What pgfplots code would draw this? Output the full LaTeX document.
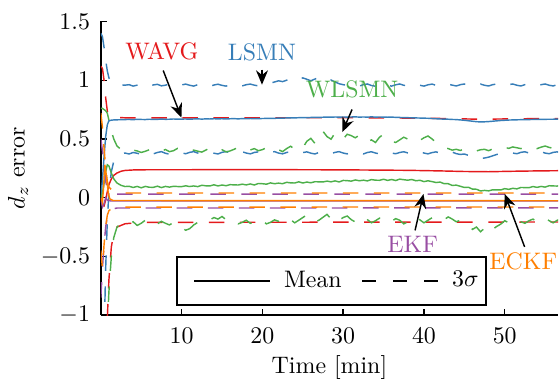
\documentclass[border=0pt]{standalone}
\usepackage{pgfplots}
\pgfplotsset{compat=1.18}
\usepackage{pgfplotstable}
\usetikzlibrary{arrows.meta}
\definecolor{cR}{RGB}{228,26,28}
\definecolor{cB}{RGB}{55,126,184}
\definecolor{cG}{RGB}{77,175,74}
\definecolor{cP}{RGB}{152,78,163}
\definecolor{cO}{RGB}{255,127,0}

\pgfplotstableread{
t bm bu bl gm gu gl
0.0 0.000 1.400 -3.00 0.000 0.760 -3.00
0.2 0.150 1.370 -2.00 0.040 0.760 -2.50
0.4 0.350 1.280 -1.20 0.120 0.750 -2.00
0.6 0.520 1.170 -0.60 0.220 0.740 -1.50
0.8 0.620 1.080 -0.20 0.280 0.720 -1.10
1.0 0.655 1.020 0.05 0.270 0.660 -0.80
1.3 0.660 0.985 0.22 0.210 0.570 -0.50
1.6 0.662 0.970 0.31 0.160 0.500 -0.34
2.0 0.663 0.962 0.36 0.125 0.440 -0.25
2.5 0.664 0.960 0.375 0.105 0.410 -0.22
3.0 0.665 0.958 0.380 0.095 0.400 -0.21
3.5 0.666 0.962 0.372 0.097 0.392 -0.223
4.0 0.664 0.950 0.385 0.087 0.405 -0.205
4.5 0.667 0.958 0.378 0.096 0.398 -0.236
5.0 0.666 0.968 0.370 0.084 0.385 -0.218
5.5 0.665 0.955 0.388 0.096 0.395 -0.192
6.0 0.668 0.947 0.380 0.089 0.408 -0.214
6.5 0.666 0.960 0.373 0.088 0.418 -0.241
7.0 0.667 0.965 0.385 0.098 0.404 -0.223
7.5 0.669 0.952 0.392 0.086 0.396 -0.201
8.0 0.667 0.958 0.378 0.096 0.410 -0.218
8.5 0.668 0.966 0.370 0.090 0.392 -0.232
9.0 0.670 0.954 0.384 0.097 0.400 -0.210
9.5 0.668 0.949 0.390 0.095 0.420 -0.221
10.0 0.669 0.960 0.382 0.094 0.425 -0.254
10.5 0.670 0.967 0.374 0.101 0.412 -0.277
11.0 0.668 0.957 0.386 0.095 0.398 -0.264
11.5 0.670 0.950 0.392 0.100 0.405 -0.232
12.0 0.671 0.962 0.380 0.094 0.396 -0.210
12.5 0.669 0.968 0.373 0.106 0.388 -0.218
13.0 0.671 0.955 0.385 0.101 0.405 -0.203
13.5 0.670 0.948 0.391 0.100 0.425 -0.189
14.0 0.672 0.959 0.379 0.110 0.410 -0.169
14.5 0.671 0.966 0.372 0.100 0.398 -0.182
15.0 0.672 0.956 0.386 0.108 0.408 -0.160
15.5 0.670 0.950 0.393 0.102 0.390 -0.187
16.0 0.672 0.961 0.381 0.111 0.398 -0.214
16.5 0.673 0.969 0.374 0.109 0.412 -0.201
17.0 0.671 0.957 0.387 0.108 0.428 -0.223
17.5 0.673 0.951 0.392 0.115 0.415 -0.210
18.0 0.672 0.962 0.380 0.109 0.398 -0.192
18.5 0.674 0.967 0.373 0.117 0.406 -0.218
19.0 0.672 0.958 0.385 0.108 0.418 -0.205
19.5 0.673 0.952 0.390 0.121 0.400 -0.182
20.0 0.674 0.960 0.382 0.119 0.409 -0.196
20.5 0.675 0.968 0.375 0.115 0.425 -0.223
21.0 0.676 0.975 0.386 0.126 0.418 -0.210
21.5 0.675 0.985 0.392 0.119 0.400 -0.189
22.0 0.678 0.995 0.380 0.124 0.409 -0.201
22.5 0.677 0.988 0.373 0.119 0.392 -0.178
23.0 0.679 1.000 0.385 0.131 0.418 -0.164
23.5 0.680 1.015 0.391 0.126 0.438 -0.187
24.0 0.679 0.998 0.380 0.125 0.412 -0.214
24.5 0.681 1.005 0.372 0.135 0.400 -0.192
25.0 0.682 1.020 0.384 0.125 0.425 -0.169
25.5 0.681 1.008 0.390 0.133 0.480 -0.146
26.0 0.683 0.995 0.379 0.127 0.505 -0.178
26.5 0.684 1.010 0.372 0.136 0.462 -0.205
27.0 0.683 1.022 0.385 0.135 0.495 -0.192
27.5 0.685 1.005 0.392 0.134 0.565 -0.167
28.0 0.686 0.990 0.381 0.141 0.520 -0.142
28.5 0.685 1.002 0.374 0.135 0.498 -0.182
29.0 0.687 0.985 0.386 0.143 0.552 -0.214
29.5 0.686 0.970 0.392 0.134 0.530 -0.192
30.0 0.687 0.962 0.380 0.147 0.500 -0.169
30.5 0.686 0.956 0.373 0.145 0.540 -0.156
31.0 0.687 0.965 0.385 0.141 0.528 -0.187
31.5 0.688 0.958 0.390 0.151 0.510 -0.207
32.0 0.686 0.950 0.379 0.144 0.532 -0.182
32.5 0.687 0.962 0.372 0.149 0.490 -0.160
33.0 0.686 0.968 0.385 0.143 0.478 -0.187
33.5 0.688 0.955 0.391 0.154 0.492 -0.214
34.0 0.686 0.949 0.380 0.149 0.470 -0.196
34.5 0.687 0.960 0.373 0.148 0.515 -0.174
35.0 0.686 0.967 0.386 0.157 0.540 -0.192
35.5 0.685 0.956 0.392 0.147 0.500 -0.218
36.0 0.686 0.950 0.380 0.155 0.480 -0.201
36.5 0.684 0.961 0.374 0.146 0.470 -0.178
37.0 0.683 0.968 0.385 0.158 0.492 -0.192
37.5 0.682 0.957 0.391 0.153 0.515 -0.223
38.0 0.681 0.951 0.381 0.149 0.498 -0.205
38.5 0.680 0.962 0.374 0.155 0.520 -0.182
39.0 0.679 0.968 0.386 0.144 0.505 -0.160
39.5 0.678 0.957 0.392 0.148 0.488 -0.189
40.0 0.677 0.950 0.380 0.137 0.510 -0.214
40.5 0.676 0.961 0.373 0.144 0.525 -0.192
41.0 0.674 0.967 0.384 0.137 0.500 -0.171
41.5 0.672 0.956 0.390 0.129 0.470 -0.187
42.0 0.670 0.950 0.379 0.133 0.440 -0.205
42.5 0.669 0.960 0.372 0.119 0.425 -0.187
43.0 0.668 0.967 0.383 0.119 0.418 -0.164
43.5 0.666 0.958 0.388 0.104 0.405 -0.182
44.0 0.665 0.951 0.375 0.107 0.412 -0.205
44.5 0.662 0.962 0.368 0.097 0.402 -0.192
45.0 0.659 0.968 0.372 0.087 0.415 -0.218
45.5 0.655 0.957 0.360 0.089 0.405 -0.235
46.0 0.651 0.950 0.350 0.073 0.410 -0.270
46.5 0.647 0.961 0.340 0.072 0.398 -0.250
47.0 0.645 0.967 0.333 0.057 0.408 -0.290
47.5 0.646 0.957 0.338 0.062 0.412 -0.260
48.0 0.648 0.951 0.345 0.058 0.400 -0.300
48.5 0.651 0.962 0.356 0.067 0.415 -0.270
49.0 0.654 0.968 0.368 0.066 0.425 -0.245
49.5 0.657 0.957 0.375 0.066 0.418 -0.225
50.0 0.659 0.951 0.382 0.077 0.428 -0.196
50.5 0.661 0.962 0.388 0.071 0.420 -0.214
51.0 0.662 0.968 0.380 0.080 0.432 -0.192
51.5 0.663 0.957 0.374 0.075 0.425 -0.178
52.0 0.664 0.951 0.386 0.087 0.418 -0.205
52.5 0.665 0.962 0.391 0.086 0.430 -0.218
53.0 0.665 0.968 0.380 0.085 0.438 -0.196
53.5 0.666 0.957 0.373 0.095 0.425 -0.182
54.0 0.666 0.951 0.385 0.088 0.418 -0.205
54.5 0.667 0.962 0.391 0.096 0.430 -0.192
55.0 0.667 0.968 0.380 0.090 0.440 -0.174
55.5 0.668 0.957 0.374 0.102 0.428 -0.196
56.0 0.668 0.951 0.386 0.100 0.420 -0.214
56.5 0.669 0.962 0.390 0.099 0.432 -0.192
57.0 0.669 0.968 0.380 0.108 0.438 -0.182
}\noisy

\begin{document}
\begin{tikzpicture}
\begin{axis}[
  name=ax,
  scale only axis, width=191.5pt, height=123pt,
  xmin=0, xmax=56.6, ymin=-1, ymax=1.5,
  axis x line=bottom, axis y line=left,
  axis line style={-, line width=0.8pt},
  xtick={10,20,30,40,50},
  ytick={-1,-0.5,0,0.5,1,1.5},
  tick align=inside, major tick length=2.5pt,
  tick style={black, line width=0.6pt},
  xlabel={Time [min]}, ylabel={$d_z$ error},
  xticklabel shift=2pt, yticklabel shift=1pt,
  xlabel shift=-2pt, ylabel shift=-1.5pt,
  every axis plot/.append style={line width=0.6pt},
  dsh/.style={dash pattern=on 6.5pt off 6.5pt},
  legend columns=2,
  legend image code/.code={\path (-5.9pt,0pt); \draw[#1] (0pt,0pt) -- (32pt,0pt);},
  legend style={at={(0.504,0.116)}, anchor=center, draw=black, line width=0.8pt,
    inner xsep=1pt, inner ysep=4pt,
    /tikz/every odd column/.append style={column sep=3.4pt},
    /tikz/every even column/.append style={column sep=0.3pt}},
]
\addlegendimage{black, line width=0.6pt, solid}
\addlegendentry{Mean}
\addlegendimage{black, line width=0.6pt, dash pattern=on 6pt off 7pt}
\addlegendentry{$3\sigma$}

% WAVG
\addplot[cR, forget plot] coordinates {(0,0) (0.2,-0.06) (0.4,-0.07) (0.6,-0.02) (0.8,0.05) (1.0,0.11) (1.3,0.16) (1.6,0.19) (2,0.21) (2.5,0.225) (3,0.232) (4,0.236) (6,0.238) (10,0.238) (20,0.239) (30,0.237) (38,0.233) (42,0.228) (45,0.223) (48,0.221) (51,0.225) (54,0.228) (57,0.23)};
\addplot[cR, dsh, forget plot] coordinates {(0,1.12) (0.2,1.1) (0.4,1.0) (0.6,0.85) (0.8,0.74) (1.0,0.7) (1.5,0.685) (3,0.68) (20,0.68) (30,0.681) (40,0.677) (47,0.668) (52,0.672) (57,0.674)};
\addplot[cR, dsh, forget plot] coordinates {(0,-5) (0.4,-2.2) (0.7,-1.2) (1.0,-0.7) (1.3,-0.42) (1.6,-0.3) (2,-0.25) (3,-0.222) (5,-0.21) (57,-0.207)};
% LSMN
\addplot[cB, forget plot] table[x=t, y=bm] {\noisy};
\addplot[cB, dsh, forget plot] table[x=t, y=bu] {\noisy};
\addplot[cB, dsh, forget plot] table[x=t, y=bl] {\noisy};
% WLSMN
\addplot[cG, forget plot] table[x=t, y=gm] {\noisy};
\addplot[cG, dsh, forget plot] table[x=t, y=gu] {\noisy};
\addplot[cG, dsh, forget plot] table[x=t, y=gl] {\noisy};
% EKF
\addplot[cP, forget plot] coordinates {(0,0) (0.2,-0.08) (0.4,-0.05) (0.6,0.0) (0.8,-0.02) (1.2,-0.028) (57,-0.028)};
\addplot[cP, dsh, forget plot] coordinates {(0,0.5) (0.2,0.4) (0.4,0.25) (0.6,0.14) (0.8,0.08) (1.0,0.055) (1.5,0.035) (2,0.03) (57,0.03)};
\addplot[cP, dsh, forget plot] coordinates {(0,-0.85) (0.2,-0.6) (0.4,-0.4) (0.6,-0.25) (0.8,-0.16) (1.0,-0.12) (1.5,-0.095) (2,-0.088) (57,-0.087)};
% ECKF
\addplot[cO, forget plot] coordinates {(0,0.0) (0.2,-0.04) (0.35,0.1) (0.5,0.28) (0.7,0.18) (0.9,0.05) (1.1,-0.01) (1.5,-0.024) (57,-0.026)};
\addplot[cO, dsh, forget plot] coordinates {(0,0.72) (0.2,0.6) (0.4,0.42) (0.6,0.25) (0.8,0.14) (1.0,0.09) (1.5,0.055) (2,0.045) (3,0.04) (57,0.04)};
\addplot[cO, dsh, forget plot] coordinates {(0,-0.45) (0.2,-0.6) (0.4,-0.4) (0.6,-0.25) (0.8,-0.15) (1.0,-0.11) (1.5,-0.085) (2,-0.08) (57,-0.079)};

% annotations
\node[cR] at (axis cs:7.55,1.245) {WAVG};
\node[cB] at (axis cs:19.95,1.24) {LSMN};
\node[cG] at (axis cs:31.1,0.92) {WLSMN};
\node[cP] at (axis cs:38.6,-0.40) {EKF};
\node[cO] at (axis cs:52.3,-0.54) {ECKF};
\draw[-{Stealth[length=6pt,width=5pt]}, line width=0.6pt] (axis cs:7.72,1.083) -- (axis cs:9.98,0.681);
\draw[-{Stealth[length=6pt,width=5pt]}, line width=0.6pt] (axis cs:19.95,1.09) -- (axis cs:19.95,0.962);
\draw[-{Stealth[length=6pt,width=5pt]}, line width=0.6pt] (axis cs:31.1,0.751) -- (axis cs:29.9,0.559);
\draw[-{Stealth[length=6pt,width=5pt]}, line width=0.6pt] (axis cs:38.9,-0.278) -- (axis cs:39.94,0.032);
\draw[-{Stealth[length=6pt,width=5pt]}, line width=0.6pt] (axis cs:52.46,-0.419) -- (axis cs:50.0,0.032);
\end{axis}
\path ([shift={(-41pt,9pt)}]ax.north west);
\end{tikzpicture}
\end{document}
